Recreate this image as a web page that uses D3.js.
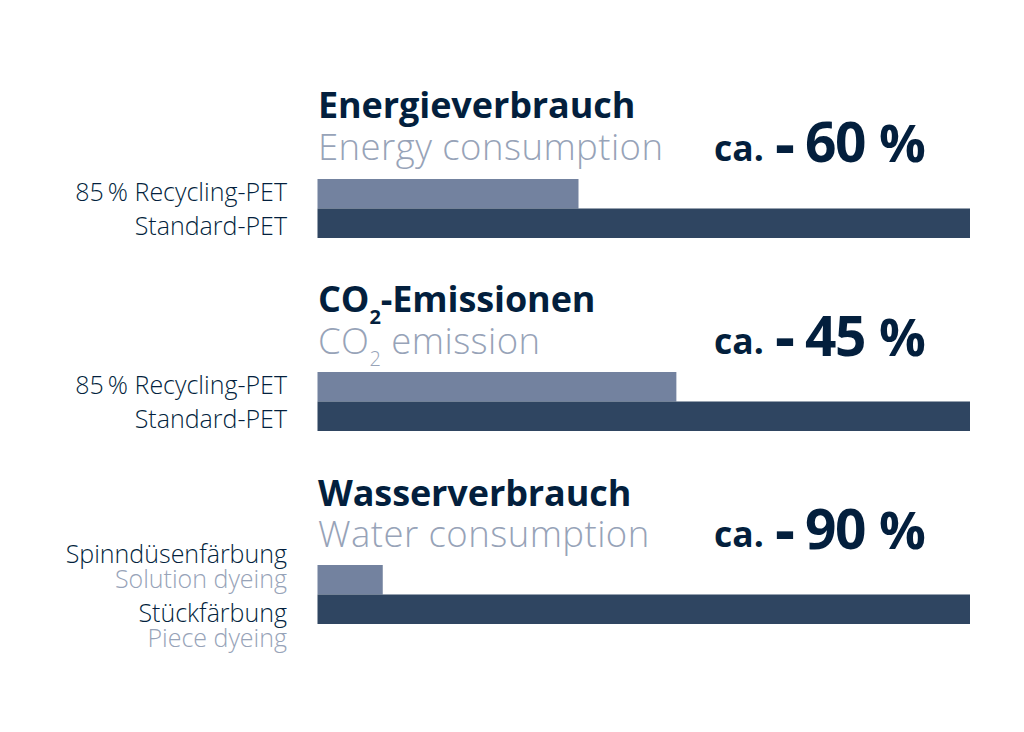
<!DOCTYPE html>
<html>
<head>
<meta charset="utf-8">
<script src="https://cdn.jsdelivr.net/npm/d3@7"></script>
<style>
  body { margin: 0; background: #fff; }
  text { font-family: "Open Sans", "Noto Sans", sans-serif; }
</style>
</head>
<body>
<script>
// chart data
const titlesDe = [["Energieverbrauch"], ["CO", "2", "-Emissionen"], ["Wasserverbrauch"]];
const titlesEn = [["Energy consumption"], ["CO", "2", " emission"], ["Water consumption"]];
const changes = ["60", "45", "90"];
const recycledValues = [40, 55, 10];
const standardValues = [100, 100, 100];
const labelsDe = [
  ["85\u2009% Recycling-PET", "Standard-PET"],
  ["85\u2009% Recycling-PET", "Standard-PET"],
  ["Spinndüsenfärbung", "Stückfärbung"]
];
const labelsEn = [null, null, ["Solution dyeing", "Piece dyeing"]];

const navy = "#031f3d", grey = "#97a3b8", lightBar = "#73829f", darkBar = "#2f4561";

const svg = d3.select("body").append("svg")
  .attr("width", 1024)
  .attr("height", 732)
  .style("display", "block");

const x = d3.scaleLinear().domain([0, 100]).range([317.5, 970]);
// vertical position of each panel's pair of bars
const panelY = d3.scalePoint().domain([0, 1, 2]).range([179, 565]);
const barY = d3.scaleBand().domain(["recycled", "standard"]).range([0, 59]);

// title with optional subscript part
function richText(g, parts, attrs, size) {
  const t = g.append("text").attr("x", attrs.x).attr("y", attrs.y)
    .attr("fill", attrs.fill).attr("font-weight", attrs.weight)
    .attr("font-size", size).attr("letter-spacing", attrs.spacing)
    .style("white-space", "pre");
  parts.forEach((p, i) => {
    const sub = parts.length > 1 && i === 1;
    t.append("tspan")
      .attr("font-size", sub ? 20 : size)
      .attr("dy", sub ? 12 : (i === 2 ? -12 : 0))
      .text(p);
  });
}

d3.range(3).forEach(i => {
  const g = svg.append("g");
  const top = panelY(i);

  g.append("rect").attr("x", x(0)).attr("y", top + barY("recycled"))
    .attr("width", x(recycledValues[i]) - x(0)).attr("height", barY.bandwidth())
    .attr("fill", lightBar);
  g.append("rect").attr("x", x(0)).attr("y", top + barY("standard"))
    .attr("width", x(standardValues[i]) - x(0)).attr("height", barY.bandwidth())
    .attr("fill", darkBar);

  richText(g, titlesDe[i], { x: 318, y: top - 61 + i, fill: navy, weight: 700, spacing: -0.1 }, 36);
  richText(g, titlesEn[i], { x: 318, y: top - 19 + i * 0.5, fill: grey, weight: 300, spacing: 0.45 }, 36.5);

  // big change figure
  const fig = g.append("text").attr("fill", navy).attr("font-weight", 700);
  fig.append("tspan").attr("x", 714).attr("y", top - 18).attr("font-size", 35.5).text("ca.");
  fig.append("tspan").attr("x", 775).attr("y", top - 13).attr("font-size", 62).text("-");
  fig.append("tspan").attr("x", 805).attr("y", top - 17 + i * 0.5).attr("font-size", 55).attr("letter-spacing", -1.5).text(changes[i]);
  fig.append("tspan").attr("dx", 14).attr("font-size", 52).text("%");

  // row labels
  if (labelsEn[i]) {
    labelsDe[i].forEach((d, j) => {
      g.append("text").attr("x", 287).attr("y", top - 2 + j * 58.5).attr("text-anchor", "end")
        .attr("fill", navy).attr("font-weight", 300).attr("font-size", 25).text(d);
      g.append("text").attr("x", 287).attr("y", top + 23 + j * 58.5).attr("text-anchor", "end")
        .attr("fill", grey).attr("font-weight", 300).attr("font-size", 25).text(labelsEn[i][j]);
    });
  } else {
    labelsDe[i].forEach((d, j) => {
      g.append("text").attr("x", 287).attr("y", top + 22 + j * 34).attr("text-anchor", "end")
        .attr("fill", navy).attr("font-weight", 300).attr("font-size", 25).text(d);
    });
  }
});
</script>
</body>
</html>
